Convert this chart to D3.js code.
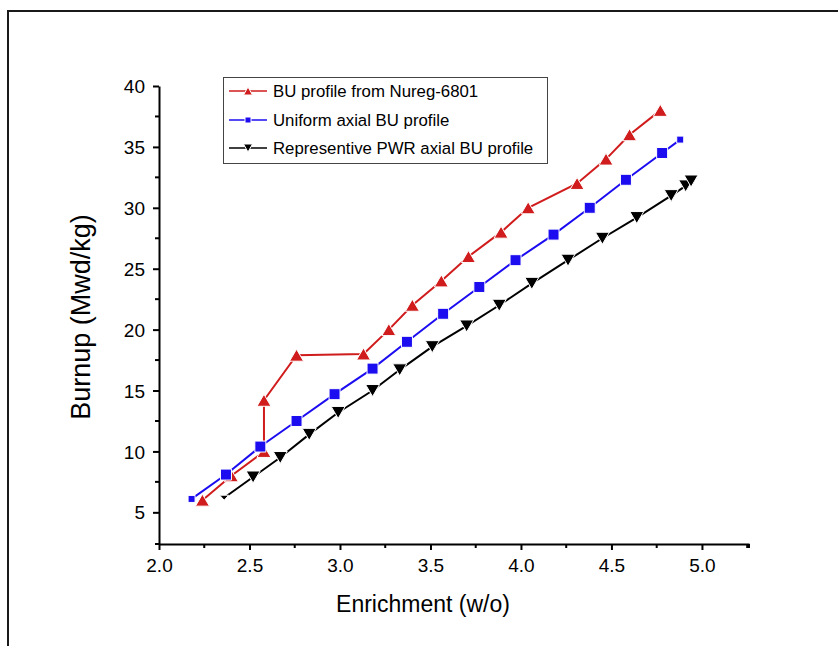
<!DOCTYPE html>
<html><head><meta charset="utf-8">
<script src="https://cdn.jsdelivr.net/npm/d3@7"></script>
<style>html,body{margin:0;padding:0;background:#fff;}svg{display:block;font-family:"Liberation Sans",Arial,sans-serif;}</style>
</head><body>
<svg id="chart" width="838" height="646"></svg>
<script>
// ---- data ----
const nuregX = [2.24, 2.40, 2.58, 2.58, 2.76, 3.13, 3.27, 3.40, 3.56, 3.71, 3.89, 4.04, 4.31, 4.47, 4.60, 4.77];
const nuregY = [6.0, 8.0, 10.0, 14.2, 17.9, 18.0, 20.0, 22.0, 24.0, 26.0, 28.0, 30.0, 32.0, 34.0, 36.0, 38.0];
const uniformX = [2.18, 2.37, 2.56, 2.76, 2.97, 3.18, 3.37, 3.57, 3.77, 3.97, 4.18, 4.38, 4.58, 4.78, 4.88];
const uniformY = [6.1, 8.1, 10.4, 12.5, 14.7, 16.8, 19.0, 21.3, 23.5, 25.7, 27.8, 30.0, 32.3, 34.5, 35.6];
const pwrX = [2.36, 2.52, 2.67, 2.83, 2.99, 3.18, 3.33, 3.51, 3.70, 3.88, 4.06, 4.26, 4.45, 4.64, 4.83, 4.91, 4.94];
const pwrY = [6.2, 7.9, 9.5, 11.4, 13.2, 15.0, 16.7, 18.6, 20.3, 22.0, 23.8, 25.7, 27.5, 29.2, 31.0, 31.8, 32.2];
const seriesNames = ["BU profile from Nureg-6801", "Uniform axial BU profile", "Representive PWR axial BU profile"];
const xTicks = [2.0, 2.5, 3.0, 3.5, 4.0, 4.5, 5.0];
const yTicks = [5, 10, 15, 20, 25, 30, 35, 40];
const xTitle = "Enrichment (w/o)";
const yTitle = "Burnup (Mwd/kg)";

// ---- layout ----
const svg = d3.select("#chart");
const x = d3.scaleLinear().domain([2.0, 5.26]).range([159, 749]);
const y = d3.scaleLinear().domain([2.4, 40]).range([544, 86]);
const colors = ["#d01c1c", "#1c0cf0", "#000000"];

// outer frame
svg.append("path").attr("d", "M8,646 L8,11 L838,11")
  .attr("fill", "none").attr("stroke", "#1a1a1a").attr("stroke-width", 2);

// axes
const xAxis = svg.append("g").attr("transform", `translate(0,${y.range()[0]})`)
  .call(d3.axisBottom(x).tickValues(xTicks).tickFormat(d3.format(".1f")).tickSize(6).tickSizeOuter(0));
const yAxis = svg.append("g").attr("transform", `translate(${x.range()[0]},0)`)
  .call(d3.axisLeft(y).tickValues(yTicks).tickFormat(d3.format("d")).tickSize(6).tickSizeOuter(0));
[xAxis, yAxis].forEach(g => {
  g.select(".domain").attr("stroke", "#000").attr("stroke-width", 2);
  g.selectAll(".tick line").attr("stroke", "#000").attr("stroke-width", 2);
  g.selectAll(".tick text").attr("fill", "#000").style("font-size", "19px")
    .style("font-family", '"Liberation Sans",Arial,sans-serif');
});
xAxis.selectAll(".tick text").attr("dy", "0").attr("y", 28);
yAxis.selectAll(".tick text").attr("x", -14).attr("dy", "0.35em");
// minor ticks
const xMinor = d3.range(2.25, 5.26, 0.5);
xAxis.selectAll(".minor").data(xMinor).enter().append("line")
  .attr("x1", d => x(d)).attr("x2", d => x(d)).attr("y1", 0).attr("y2", 4)
  .attr("stroke", "#000").attr("stroke-width", 2);
const yMinor = d3.range(7.5, 40, 5);
yAxis.selectAll(".minor").data(yMinor).enter().append("line")
  .attr("y1", d => y(d)).attr("y2", d => y(d)).attr("x1", 0).attr("x2", -4)
  .attr("stroke", "#000").attr("stroke-width", 2);
// end cap of x axis
xAxis.append("line").attr("x1", x.range()[1]).attr("x2", x.range()[1]).attr("y1", 0).attr("y2", 4)
  .attr("stroke", "#000").attr("stroke-width", 2);
xAxis.append("line").attr("x1", x.range()[0] - 4).attr("x2", x.range()[0]).attr("y1", 0).attr("y2", 0)
  .attr("stroke", "#000").attr("stroke-width", 2);

// titles
svg.append("text").attr("x", 423).attr("y", 612).attr("text-anchor", "middle")
  .style("font-size", "23px").text(xTitle);
svg.append("text").attr("transform", "translate(90,317) rotate(-90)").attr("text-anchor", "middle")
  .style("font-size", "27px").text(yTitle);

// marker paths
function triUp(w, h) { return `M0,${-h/2} L${w/2},${h/2} L${-w/2},${h/2} Z`; }
function triDown(w, h) { return `M0,${h/2} L${w/2},${-h/2} L${-w/2},${-h/2} Z`; }
function square(s) { return `M${-s/2},${-s/2} h${s} v${s} h${-s} Z`; }

const series = [
  { xs: nuregX, ys: nuregY, color: colors[0], marker: i => triUp(14, 12) },
  { xs: uniformX, ys: uniformY, color: colors[1], marker: (i, n) => (i === 0 || i === n - 1) ? square(7) : square(11) },
  { xs: pwrX, ys: pwrY, color: colors[2], marker: (i, n) => i === 0 ? triDown(9, 5) : triDown(14, 12) }
];
const line = d3.line().x(d => x(d[0])).y(d => y(d[1]));
series.forEach(s => {
  const pts = s.xs.map((v, i) => [v, s.ys[i]]);
  svg.append("path").datum(pts).attr("d", line).attr("fill", "none")
    .attr("stroke", s.color).attr("stroke-width", 2);
  svg.append("g").selectAll("path").data(pts).enter().append("path")
    .attr("transform", d => `translate(${x(d[0])},${y(d[1])})`)
    .attr("d", (d, i) => s.marker(i, pts.length))
    .attr("fill", s.color).attr("stroke", "#fff").attr("stroke-width", 1);
});

// legend
const lg = svg.append("g");
lg.append("rect").attr("x", 223.5).attr("y", 77.5).attr("width", 324).attr("height", 86)
  .attr("fill", "#fff").attr("stroke", "#444").attr("stroke-width", 1);
const legendMarkers = [triUp(9, 8), square(6), triDown(9, 8)];
const rowsY = [91, 120, 148];
seriesNames.forEach((name, i) => {
  lg.append("line").attr("x1", 229).attr("x2", 267).attr("y1", rowsY[i]).attr("y2", rowsY[i])
    .attr("stroke", colors[i]).attr("stroke-width", 1.5);
  lg.append("path").attr("transform", `translate(248,${rowsY[i]})`).attr("d", legendMarkers[i])
    .attr("fill", colors[i]).attr("stroke", "#fff").attr("stroke-width", 1);
  lg.append("text").attr("x", 273).attr("y", rowsY[i] + 6).style("font-size", "16.8px")
    .attr("fill", "#000").text(name);
});
</script>
</body></html>
